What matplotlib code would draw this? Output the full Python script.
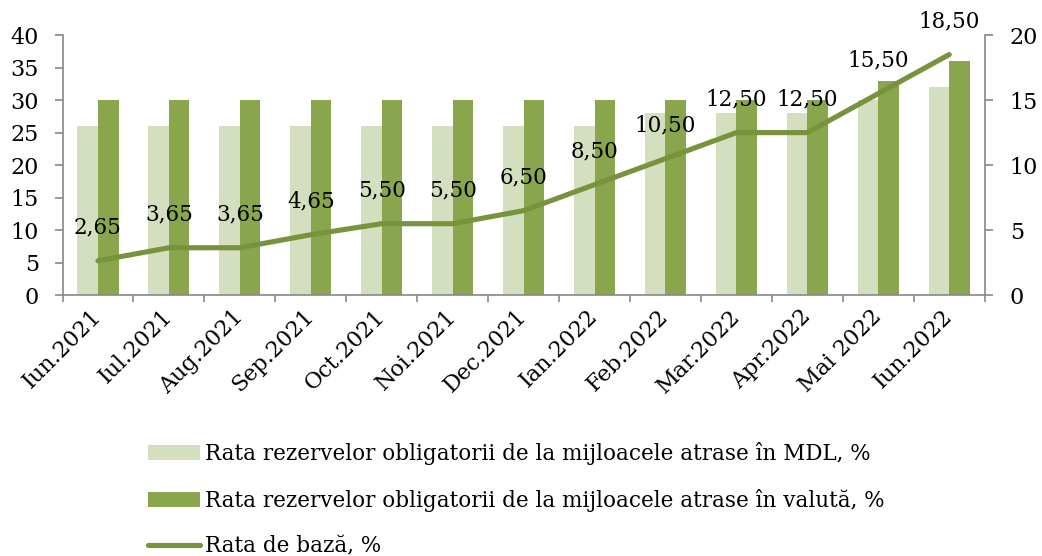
import numpy as np
import matplotlib
matplotlib.use('Agg')
import matplotlib.pyplot as plt

luni = ['Iun.2021', 'Iul.2021', 'Aug.2021', 'Sep.2021', 'Oct.2021', 'Noi.2021', 'Dec.2021',
        'Ian.2022', 'Feb.2022', 'Mar.2022', 'Apr.2022', 'Mai 2022', 'Iun.2022']
rr_mdl = [26, 26, 26, 26, 26, 26, 26, 26, 28, 28, 28, 30, 32]
rr_val = [30, 30, 30, 30, 30, 30, 30, 30, 30, 30, 30, 33, 36]
rata_baza = [2.65, 3.65, 3.65, 4.65, 5.50, 5.50, 6.50, 8.50, 10.50, 12.50, 12.50, 15.50, 18.50]

lbl_mdl = 'Rata rezervelor obligatorii de la mijloacele atrase în MDL, %'
lbl_val = 'Rata rezervelor obligatorii de la mijloacele atrase în valută, %'
lbl_baza = 'Rata de bază, %'

C_LIGHT = '#D3DFBF'
C_DARK = '#8AA64D'
C_LINE = '#77933C'
C_AX = '#888888'

plt.rcParams['font.family'] = ['DejaVu Serif']

fig = plt.figure(figsize=(10.42, 5.56), dpi=100)
ax = fig.add_axes([0.060, 0.469, 0.885, 0.468])
ax2 = ax.twinx()

x = np.arange(len(luni))
w = 0.29
b1 = ax.bar(x - w / 2, rr_mdl, w, color=C_LIGHT, label=lbl_mdl, zorder=2)
b2 = ax.bar(x + w / 2, rr_val, w, color=C_DARK, label=lbl_val, zorder=2)
ln, = ax2.plot(x, rata_baza, color=C_LINE, lw=3.7, label=lbl_baza, solid_capstyle='round')

# etichete pentru rata de baza, virgula ca separator zecimal
for xi, v in zip(x, rata_baza):
    ax2.annotate(('%.2f' % v).replace('.', ','), (xi, v), xytext=(0, 33),
                 textcoords='offset pixels', ha='center', va='center', fontsize=15.5)

ax.set_xlim(-0.5, len(luni) - 0.5)
ax.set_ylim(0, 40)
ax2.set_ylim(0, 20)
ax.set_yticks(range(0, 41, 5))
ax2.set_yticks(range(0, 21, 5))
ax.set_xticks(x)
ax.set_xticklabels(luni, rotation=45, ha='right', va='center', rotation_mode='anchor', fontsize=16)
ax.set_xticks(np.arange(-0.5, len(luni)), minor=True)
ax.tick_params(axis='x', which='major', length=0, pad=13)
ax.tick_params(axis='x', which='minor', length=5, width=1.2, color=C_AX, direction='out')
ax.tick_params(axis='y', labelsize=16, length=6, width=1.2, color=C_AX, pad=11)
ax2.tick_params(axis='y', labelsize=16, length=6, width=1.2, color=C_AX, pad=12)

for a in (ax, ax2):
    a.spines['top'].set_visible(False)
    for s in ('left', 'right', 'bottom'):
        a.spines[s].set_color(C_AX)
        a.spines[s].set_linewidth(1.2)
ax.spines['right'].set_visible(False)
ax2.spines['left'].set_visible(False)
ax2.spines['bottom'].set_visible(False)

fig.legend(handles=[b1, b2, ln], loc='upper left', bbox_to_anchor=(0.142, 0.205),
           frameon=False, handlelength=2.42, handletextpad=0.23, labelspacing=1.1,
           borderaxespad=0, borderpad=0, prop={'size': 15.5})

fig.savefig('out.png', dpi=100)
